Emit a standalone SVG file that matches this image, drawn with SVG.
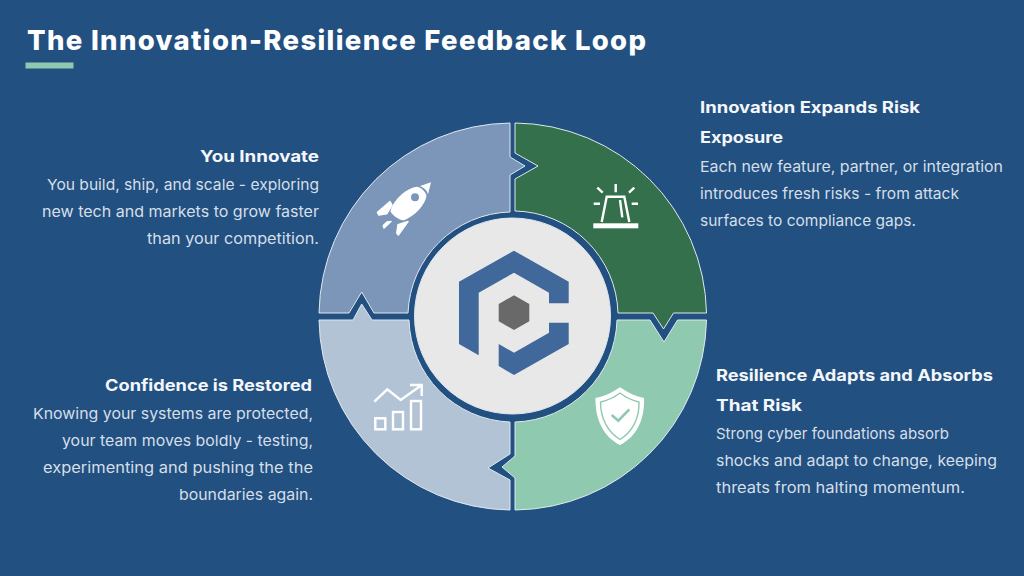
<svg xmlns="http://www.w3.org/2000/svg" width="1024" height="576" viewBox="0 0 1024 576">
<style>
.seg{stroke:#dfe7ef;stroke-width:1;stroke-linejoin:miter}
.t{font-family:"Inter","Open Sans","Liberation Sans",sans-serif}
.h{font-size:16px;font-weight:700;fill:#f4f6f9}
.b{font-size:15px;font-weight:400;fill:#d5dfe9}
.e{text-anchor:end}
.ic{fill:none;stroke:#fff;stroke-width:2.4}
.w{fill:#fff}
.fin{fill:#fff;stroke:#fff;stroke-width:1.500;stroke-linejoin:round}
</style>
<rect width="1024" height="576" fill="#225080"/>
<g id="title">
<text class="t" x="27" y="50" font-size="27.500" font-weight="800" fill="#fff" textLength="619">The Innovation-Resilience Feedback Loop</text>
<rect x="25.500" y="62.500" width="48" height="6" fill="#8fcab0"/>
</g>
<g id="connectors"></g>
<g id="segment-innovate">
<path class="seg" fill="#7b96b9" d="M510,123 A193.500,193.500 0 0 0 319,313 H349 L361.700,292 L374,313 H408 A105,105 0 0 1 510,212 V175 L525,166 L510,157 Z"/>
<path class="w" d="M416.700,186.700 C421,187 426,192 426.500,196 C425,205 415,216 403.500,220.500 C399,220 392,215 390.500,211.500 C392,202 404,189 416.700,186.700 Z"/>
<path class="w" d="M420,186 L431,182.300 L428,194.300 C427,190.500 424,187.500 420,186 Z"/>
<circle cx="415" cy="197.300" r="4" fill="#7b96b9"/>
<path class="fin" d="M390,201.500 L377.500,212.300 L378.800,215 L386.700,213.800 L392,205 Z"/>
<path class="fin" d="M408,221.500 L398.300,235 L396.800,233 L398,224.800 Z"/>
<path class="fin" d="M391,221.500 L384,228 L383.300,225.500 L387,222 Z"/>
</g>
<g id="segment-risk">
<path class="seg" fill="#35704c" d="M515,123 A193.500,193.500 0 0 1 706.500,313 H673.500 L663.500,329 L653,313 H618 A105,105 0 0 0 515,211 V179 L538,166 L515,153 Z"/>
<rect class="w" x="593.300" y="223.300" width="45" height="5"/>
<path class="ic" d="M601.700,222 L606.700,196.700 H624.300 L629.300,222"/>
<path class="ic" stroke-width="1.800" d="M620,200 L622.300,217.300"/>
<path class="ic" d="M615.700,184 V192.300 M597.300,187.700 L602.700,192.700 M634.300,187.700 L629,192.700 M593.700,203.700 H600 M631.700,203.700 H638"/>
</g>
<g id="segment-resilience">
<path class="seg" fill="#8fcab0" d="M706.500,320 A193.500,193.500 0 0 1 515,510 V478 L502,467 L515,456 V422 A105,105 0 0 0 617,320 H650 L664,342 L677.500,320 Z"/>
<path class="w" d="M620,387.300 C612,393 604,396.500 595.500,398 C595,420 604,437 620,445 C636,437 645,420 644,398 C636,396.500 628,393 620,387.300 Z"/>
<path fill="none" stroke="#8fcab0" stroke-width="1.400" d="M620,393 C614,397.500 608,400.500 600.500,402 C600.500,418 607.500,432 620,439.500 C632.500,432 639.500,418 639,402 C632,400.500 626,397.500 620,393 Z"/>
<path fill="none" stroke="#8fcab0" stroke-width="2.600" d="M611.700,415 L618.300,420.700 L629.300,409.300"/>
</g>
<g id="segment-confidence">
<path class="seg" fill="#b3c3d6" d="M319,320 H353 L361.700,304 L372,320 H409 A105,105 0 0 0 510,422 V454 L488,468 L510,480 V510 A193.500,193.500 0 0 1 319,320 Z"/>
<path class="ic" d="M374.300,401.700 L387.300,389.300 L400.700,400 L421.700,385 M410,385 H421.700 V396"/>
<rect class="ic" x="375.300" y="418.300" width="10" height="11"/>
<rect class="ic" x="393" y="412" width="10" height="17.300"/>
<rect class="ic" x="411" y="401" width="10" height="28.300"/>
</g>
<g id="hub">
<circle cx="512.500" cy="316" r="98" fill="#e8e8e8" stroke="#dfe7ef" stroke-width="1"/>
<path fill="#41689a" d="M514,250.700 L568.700,281.700 V303.300 H549 V292.700 L514,272.700 L478.700,292.700 V355.300 L459,344 V281.700 Z"/>
<path fill="#41689a" d="M498.700,344 L514,352.700 L549,332.700 V322.700 H568.700 V344 L514,375 L498.700,366 Z"/>
<path fill="#696969" d="M514,295.300 L529.300,304 V321.300 L514,330 L498.700,321.300 V304 Z"/>
</g>
<g id="text-innovate" class="t">
<text class="h e" x="319" y="162" textLength="119" lengthAdjust="spacingAndGlyphs">You Innovate</text>
<text class="b e" x="319" y="190" textLength="272" lengthAdjust="spacingAndGlyphs">You build, ship, and scale - exploring</text>
<text class="b e" x="319" y="217" textLength="277" lengthAdjust="spacingAndGlyphs">new tech and markets to grow faster</text>
<text class="b e" x="319" y="244" textLength="172" lengthAdjust="spacingAndGlyphs">than your competition.</text>
</g>
<g id="text-risk" class="t">
<text class="h" x="700" y="113" textLength="220" lengthAdjust="spacingAndGlyphs">Innovation Expands Risk</text>
<text class="h" x="700" y="143" textLength="83" lengthAdjust="spacingAndGlyphs">Exposure</text>
<text class="b" x="700" y="172" textLength="303" lengthAdjust="spacingAndGlyphs">Each new feature, partner, or integration</text>
<text class="b" x="700" y="199" textLength="259" lengthAdjust="spacingAndGlyphs">introduces fresh risks - from attack</text>
<text class="b" x="700" y="226" textLength="216" lengthAdjust="spacingAndGlyphs">surfaces to compliance gaps.</text>
</g>
<g id="text-resilience" class="t">
<text class="h" x="716" y="381" textLength="277" lengthAdjust="spacingAndGlyphs">Resilience Adapts and Absorbs</text>
<text class="h" x="716" y="411" textLength="86" lengthAdjust="spacingAndGlyphs">That Risk</text>
<text class="b" x="716" y="439" textLength="233" lengthAdjust="spacingAndGlyphs">Strong cyber foundations absorb</text>
<text class="b" x="716" y="466" textLength="281" lengthAdjust="spacingAndGlyphs">shocks and adapt to change, keeping</text>
<text class="b" x="716" y="493" textLength="249" lengthAdjust="spacingAndGlyphs">threats from halting momentum.</text>
</g>
<g id="text-confidence" class="t">
<text class="h e" x="312" y="391" textLength="207" lengthAdjust="spacingAndGlyphs">Confidence is Restored</text>
<text class="b e" x="313" y="419" textLength="280" lengthAdjust="spacingAndGlyphs">Knowing your systems are protected,</text>
<text class="b e" x="313" y="446" textLength="251" lengthAdjust="spacingAndGlyphs">your team moves boldly - testing,</text>
<text class="b e" x="313" y="473" textLength="270" lengthAdjust="spacingAndGlyphs">experimenting and pushing the the</text>
<text class="b e" x="313" y="500" textLength="134" lengthAdjust="spacingAndGlyphs">boundaries again.</text>
</g>
</svg>
